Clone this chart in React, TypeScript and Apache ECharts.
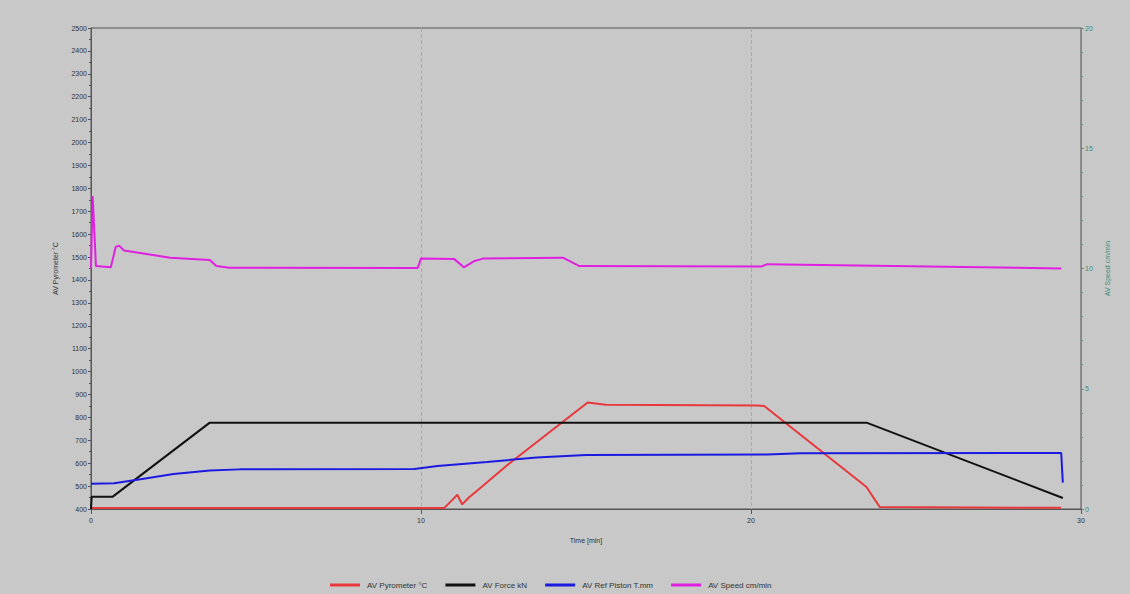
import React, { useEffect, useRef } from "react";
import * as echarts from "echarts";

// Time [min] / value pairs for each recorded channel
const pyrometerTime = [0, 10.7, 10.95, 11.1, 11.25, 11.45, 11.7, 12.6, 15.05, 15.6, 20.2, 20.4, 23.5, 23.9, 29.4];
const pyrometerVals = [404, 404, 440, 462, 420, 450, 480, 590, 865, 855, 852, 850, 496, 409, 405];

const forceTime = [0, 0.02, 0.65, 3.6, 23.5, 29.45];
const forceVals = [400, 453, 453, 777, 777, 448];

const pistonTime = [0, 0.7, 1.5, 2.5, 3.6, 4.5, 9.8, 10.5, 12, 13.5, 15, 20.5, 21.5, 29.4, 29.45];
const pistonVals = [510, 512, 530, 553, 568, 573, 575, 588, 605, 625, 636, 638, 643, 645, 515];

const speedTime = [0, 0.05, 0.15, 0.6, 0.75, 0.85, 1.0, 2.4, 3.6, 3.8, 4.2, 9.9, 10.0, 11.0, 11.3, 11.6, 11.9, 14.3, 14.8, 20.3, 20.5, 29.4];
const speedVals = [10.0, 13.0, 10.1, 10.05, 10.9, 10.95, 10.75, 10.45, 10.35, 10.1, 10.03, 10.02, 10.42, 10.4, 10.05, 10.3, 10.42, 10.45, 10.1, 10.08, 10.18, 10.0];

const seriesNames = ["AV Pyrometer °C", "AV Force kN", "AV Ref Piston T.mm", "AV Speed cm/min"];
const seriesColors = ["#e8383c", "#111111", "#1a1ae0", "#e020e0"];

const pairs = (t: number[], v: number[]) => t.map((x, i) => [x, v[i]]);
const plain = (v: number) => String(v);

export default function App() {
  const ref = useRef<HTMLDivElement>(null);
  useEffect(() => {
    if (!ref.current) return;
    const chart = echarts.init(ref.current, undefined, { renderer: "svg" });
    const font = "Liberation Sans";
    const line = (i: number, data: number[][], yAxisIndex = 0) => ({
      name: seriesNames[i],
      type: "line",
      yAxisIndex,
      data,
      showSymbol: false,
      symbol: "none",
      lineStyle: { color: seriesColors[i], width: 2 },
      itemStyle: { color: seriesColors[i] },
    });
    chart.setOption({
      animation: false,
      backgroundColor: "#c8c8c8",
      textStyle: { fontFamily: font },
      grid: { left: 91, right: 49, top: 28, bottom: 85, show: true, borderColor: "#555", borderWidth: 1, backgroundColor: "transparent" },
      legend: {
        bottom: 0,
        left: 325,
        itemWidth: 30,
        itemHeight: 3,
        itemGap: 18,
        icon: "rect",
        textStyle: { fontSize: 8, color: "#333", padding: [0, 0, 0, 2] },
        data: seriesNames,
      },
      xAxis: {
        type: "value",
        min: 0,
        max: 30,
        interval: 10,
        name: "Time [min]",
        nameLocation: "middle",
        nameGap: 28,
        nameTextStyle: { fontSize: 7, color: "#333" },
        axisLine: { lineStyle: { color: "#555" } },
        axisTick: { show: true, lineStyle: { color: "#555" } },
        axisLabel: { fontSize: 7, color: "#333", formatter: plain },
        splitLine: { show: true, lineStyle: { color: "#aaaaaa", type: "dashed", width: 1 } },
      },
      yAxis: [
        {
          type: "value",
          min: 400,
          max: 2500,
          interval: 100,
          name: "AV Pyrometer °C",
          nameLocation: "middle",
          nameGap: 32,
          nameTextStyle: { fontSize: 7, color: "#333" },
          axisLine: { show: true, lineStyle: { color: "#555" } },
          axisTick: { show: true, length: 3, lineStyle: { color: "#555" } },
          minorTick: { show: true, splitNumber: 2, length: 2, lineStyle: { color: "#555" } },
          axisLabel: { fontSize: 7, color: "#333", margin: 4, formatter: plain },
          splitLine: { show: false },
        },
        {
          type: "value",
          min: 0,
          max: 20,
          interval: 5,
          position: "right",
          name: "AV Speed cm/min",
          nameLocation: "middle",
          nameGap: 18,
          nameTextStyle: { fontSize: 7, color: "#3c8c78" },
          axisLine: { show: true, lineStyle: { color: "#5f9488" } },
          axisTick: { show: true, length: 3, lineStyle: { color: "#5f9488" } },
          minorTick: { show: true, splitNumber: 5, length: 2, lineStyle: { color: "#5f9488" } },
          axisLabel: { fontSize: 7, color: "#3c8c78", margin: 4, formatter: plain },
          splitLine: { show: false },
        },
      ],
      series: [
        line(0, pairs(pyrometerTime, pyrometerVals)),
        line(1, pairs(forceTime, forceVals)),
        line(2, pairs(pistonTime, pistonVals)),
        line(3, pairs(speedTime, speedVals), 1),
      ],
    });
    return () => chart.dispose();
  }, []);
  return <div ref={ref} style={{ position: "fixed", left: 0, top: 0, width: 1130, height: 594 }} />;
}
